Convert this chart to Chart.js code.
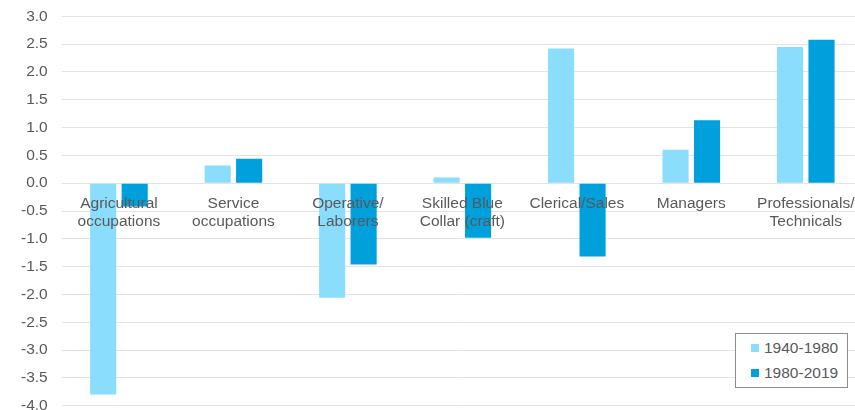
<!DOCTYPE html>
<html>
<head>
<meta charset="utf-8">
<script src="https://cdn.jsdelivr.net/npm/chart.js@4/dist/chart.umd.min.js"></script>
<style>
    html, body { margin: 0; padding: 0; background: #fff; overflow: hidden; }
    #wrap { position: relative; width: 868px; height: 410px; overflow: hidden; }
    #chart { position: absolute; left: 0; top: -7px; }
    #legend {
        position: absolute; left: 735px; top: 333px; width: 113px; height: 55px;
        border: 1px solid #8c8c8c; box-sizing: border-box; background: #fff;
        font: 15.5px "Liberation Sans", Arial, sans-serif; color: #595959;
    }
    #legend div { position: absolute; left: 15px; white-space: nowrap; }
    #legend span { display: inline-block; width: 8px; height: 8px; margin-right: 5px; vertical-align: 1px; }
</style>
</head>
<body>
<div id="wrap">
    <canvas id="chart" width="868" height="436"></canvas>
    <div id="legend"></div>
</div>
<script>
// categorias del eje x
const categorias = [
    ['Agricultural', 'occupations'],
    ['Service', 'occupations'],
    ['Operative/', 'Laborers'],
    ['Skilled Blue', 'Collar (craft)'],
    'Clerical/Sales',
    'Managers',
    ['Professionals/', 'Technicals']
];

const serie1940 = [-3.80, 0.32, -2.06, 0.10, 2.42, 0.60, 2.45];
const serie1980 = [-0.42, 0.44, -1.46, -0.98, -1.32, 1.13, 2.58];

const etiquetasSeries = ['1940-1980', '1980-2019'];
const colores = ['#8ADDFD', '#00A0DC'];

const fuente = { family: '"Liberation Sans", Arial, sans-serif', size: 15.5 };

new Chart(document.getElementById('chart'), {
    type: 'bar',
    data: {
        labels: categorias,
        datasets: [
            { label: etiquetasSeries[0], data: serie1940, backgroundColor: colores[0] },
            { label: etiquetasSeries[1], data: serie1980, backgroundColor: colores[1] }
        ]
    },
    options: {
        responsive: false,
        animation: false,
        categoryPercentage: 0.55,
        barPercentage: 0.83,
        layout: { padding: { left: 7, right: 5, top: 3, bottom: 5 } },
        plugins: {
            legend: { display: false },
            tooltip: { enabled: false }
        },
        scales: {
            x: {
                position: { y: 0 },
                grid: { display: false },
                border: { display: false },
                ticks: {
                    z: 1,
                    color: '#595959',
                    font: fuente,
                    padding: 3,
                    autoSkip: false,
                    maxRotation: 0,
                    minRotation: 0
                }
            },
            y: {
                min: -4,
                max: 3,
                grid: { color: '#e3e3e3', drawTicks: false },
                border: { display: false },
                ticks: {
                    stepSize: 0.5,
                    color: '#595959',
                    font: fuente,
                    padding: 14,
                    callback: v => v.toFixed(1)
                }
            }
        }
    }
});

// leyenda en html
const leyenda = document.getElementById('legend');
leyenda.innerHTML = etiquetasSeries.map((t, i) =>
    `<div style="top:${5 + i * 25}px"><span style="background:${colores[i]}"></span>${t}</div>`
).join('');
</script>
</body>
</html>
